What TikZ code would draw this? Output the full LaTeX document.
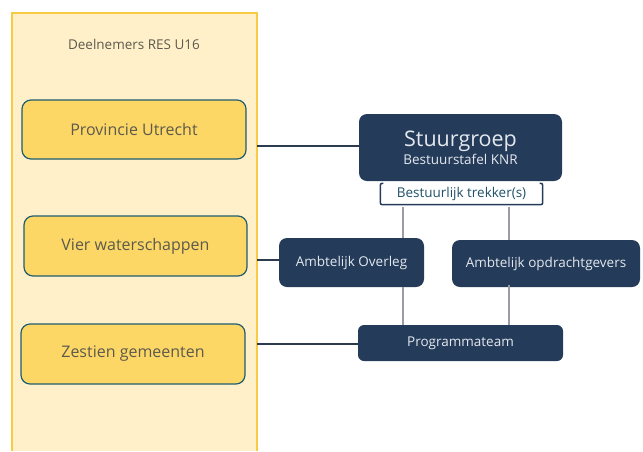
\documentclass[tikz,border=0pt]{standalone}
\usepackage{fontspec}
\setmainfont{Open Sans}
\definecolor{navy}{HTML}{243C5A}
\definecolor{panelfill}{HTML}{FFF0C9}
\definecolor{panelline}{HTML}{F8CB45}
\definecolor{boxfill}{HTML}{FDD766}
\definecolor{boxline}{HTML}{1E5E70}
\definecolor{boxtext}{HTML}{5C5A4E}
\definecolor{navytext}{HTML}{E4E8EE}
\definecolor{vline}{HTML}{9A9EA4}
\definecolor{hline}{HTML}{2C3B4E}
\tikzset{
  ybox/.style={draw=boxline, line width=1.2pt, fill=boxfill, rounded corners=9pt, text=boxtext, font=\fontsize{16}{18}\selectfont},
  nbox/.style={fill=navy, rounded corners=8pt, text=navytext, font=\fontsize{13.5}{16}\selectfont},
  hconn/.style={draw=hline, line width=1.2pt},
  vconn/.style={draw=vline, line width=1.2pt},
}
\begin{document}
\begin{tikzpicture}[x=1pt,y=-1pt]
\useasboundingbox (0,0) rectangle (643,451);
% panel
\fill[panelfill] (12,13) rectangle (257,451);
\draw[panelline, line width=1.2pt] (12,451) -- (12,13) -- (257,13) -- (257,451);
\node[text=boxtext, font=\fontsize{13.5}{16}\selectfont] (title) at (134,44) {Deelnemers RES U16};
% yellow boxes
\node[ybox, minimum width=224pt, minimum height=59pt] (prov) at (134,129.5) {Provincie Utrecht};
\node[ybox, minimum width=223pt, minimum height=60pt] (water) at (135.5,246) {Vier waterschappen};
\node[ybox, minimum width=224pt, minimum height=60pt] (gem) at (133,354) {Zestien gemeenten};
% navy boxes
\node[nbox, minimum width=203pt, minimum height=67pt, align=center] (stuur) at (460.5,147.5)
  {{\fontsize{21.5}{24}\selectfont Stuurgroep}\\[2pt]Bestuurstafel KNR};
\node[nbox, minimum width=145pt, minimum height=49pt] (overleg) at (351.5,262.5) {Ambtelijk Overleg};
\node[nbox, minimum width=188pt, minimum height=47pt] (opdr) at (546,263.5) {Ambtelijk opdrachtgevers};
\node[nbox, minimum width=205pt, minimum height=36pt, rounded corners=6pt] (prog) at (460.5,343) {Programmateam};
% trekker bracket box
\node[text=boxline!60!navy, font=\fontsize{13.5}{16}\selectfont, minimum width=162pt, minimum height=21pt, inner sep=0pt] (trek) at (461.5,194) {Bestuurlijk trekker(s)};
\draw[navy, line width=1.5pt, rounded corners=2pt] ([xshift=3pt]trek.north west) -- (trek.north west) -- (trek.south west) -- (trek.south east) -- (trek.north east) -- ([xshift=-3pt]trek.north east);
% connectors
\coordinate (p1) at (257,146);
\coordinate (p2) at (257,260);
\coordinate (p3) at (257,344);
\draw[hconn] (p1) -- (stuur.west |- p1);
\draw[hconn] (p2) -- (overleg.west |- p2);
\draw[hconn] (p3) -- (prog.west |- p3);
\coordinate (t1) at (403,207);
\coordinate (t2) at (509,207);
\draw[vconn] (t1) -- (t1 |- overleg.north);
\draw[vconn] (t2) -- (t2 |- opdr.north);
\draw[vconn] (t1 |- overleg.south) -- (t1 |- prog.north);
\draw[vconn] ([yshift=2pt]t2 |- opdr.south) -- (t2 |- prog.north);
\end{tikzpicture}
\end{document}
